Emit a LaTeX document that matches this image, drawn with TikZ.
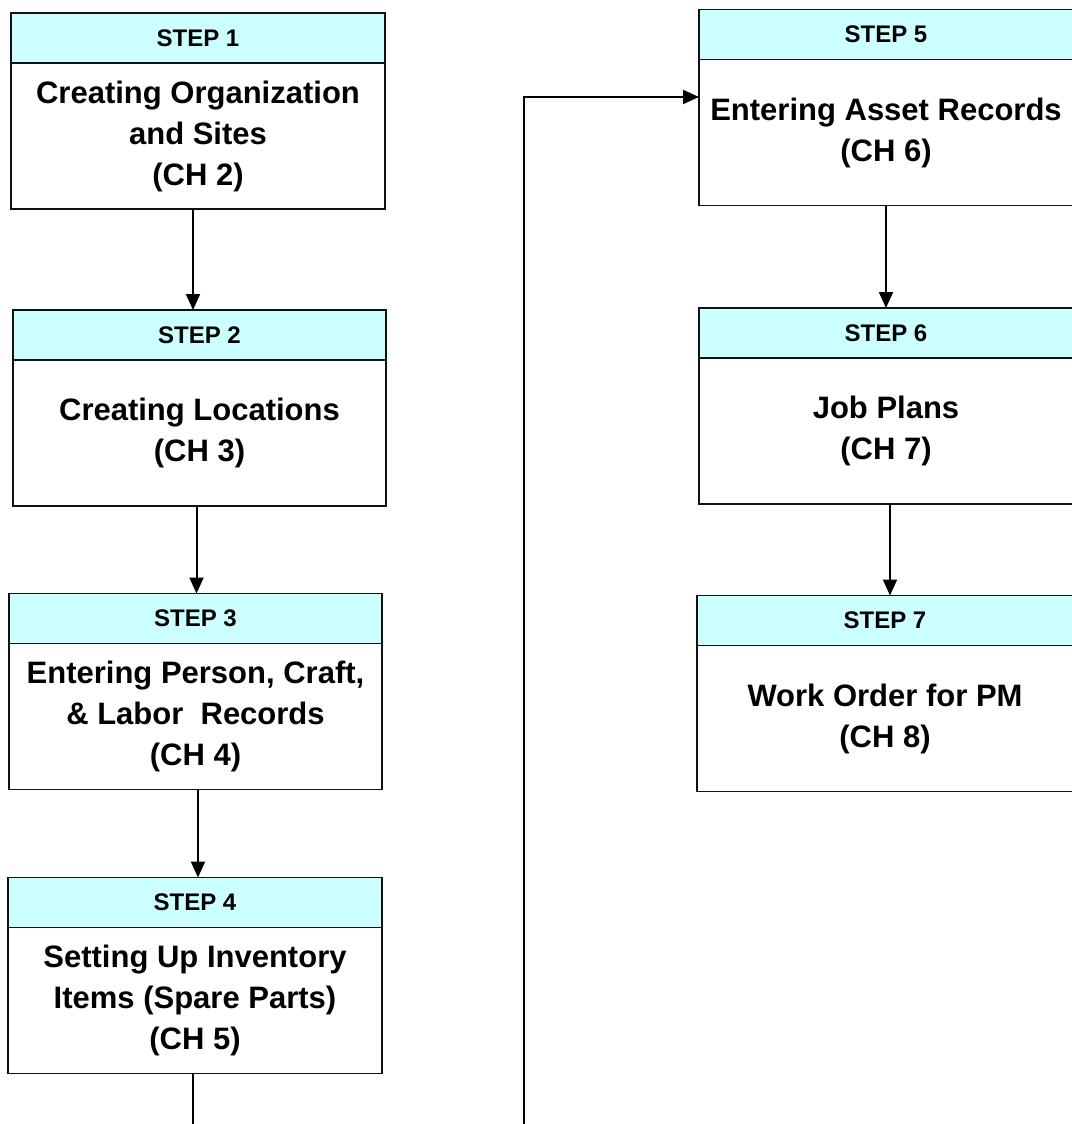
\documentclass[tikz,border=0pt]{standalone}
\usepackage{fontspec}
\setmainfont{Liberation Sans}
\usetikzlibrary{arrows.meta}
\definecolor{hdrfill}{HTML}{CCFFFF}
\definecolor{edge}{HTML}{111111}
\begin{document}
\begin{tikzpicture}[x=1pt,y=-1pt,
  hdr/.style={draw=edge, line width=1.5pt, fill=hdrfill, rectangle, inner sep=0pt, outer sep=0pt,
    minimum height=50pt, font=\fontsize{24}{28}\selectfont\bfseries},
  bdy/.style={draw=edge, line width=1.5pt, fill=white, rectangle, inner sep=0pt, outer sep=0pt,
    minimum height=146pt, align=center, font=\fontsize{31}{41}\selectfont\bfseries},
  arr/.style={draw=black, line width=2pt, -{Triangle[length=16pt,width=14pt]}},
  lin/.style={draw=black, line width=2pt}]
\useasboundingbox (0,0) rectangle (1071,1124);
\fill[white] (0,0) rectangle (1071,1124);
% left column
\node[hdr, minimum width=374pt] (h1) at (198,38) {STEP 1};
\node[bdy, minimum width=374pt, anchor=north] (b1) at (h1.south) {Creating Organization\\and Sites\\(CH 2)};
\node[hdr, minimum width=373pt] (h2) at (199.5,335) {STEP 2};
\node[bdy, minimum width=373pt, anchor=north] (b2) at (h2.south) {Creating Locations\\(CH 3)};
\node[hdr, minimum width=373pt] (h3) at (195.5,618.5) {STEP 3};
\node[bdy, minimum width=373pt, anchor=north] (b3) at (h3.south) {Entering Person, Craft,\\\& Labor~ Records\\(CH 4)};
\node[hdr, minimum width=374pt] (h4) at (195,902.5) {STEP 4};
\node[bdy, minimum width=374pt, anchor=north] (b4) at (h4.south) {Setting Up Inventory\\Items (Spare Parts)\\(CH 5)};
% right column
\node[hdr, minimum width=374pt] (h5) at (886,34.5) {STEP 5};
\node[bdy, minimum width=374pt, anchor=north] (b5) at (h5.south) {Entering Asset Records\\(CH 6)};
\node[hdr, minimum width=374pt] (h6) at (886,333) {STEP 6};
\node[bdy, minimum width=374pt, anchor=north] (b6) at (h6.south) {Job Plans\\(CH 7)};
\node[hdr, minimum width=376pt] (h7) at (885,620.5) {STEP 7};
\node[bdy, minimum width=376pt, anchor=north] (b7) at (h7.south) {Work Order for PM\\(CH 8)};
% connectors
\draw[arr] ([xshift=-5pt]b1.south) -- ([xshift=-5pt]b1.south |- h2.north);
\draw[arr] ([xshift=-3pt]b2.south) -- ([xshift=-3pt]b2.south |- h3.north);
\draw[arr] ([xshift=2.5pt]b3.south) -- ([xshift=2.5pt]b3.south |- h4.north);
\draw[arr] (b5.south) -- (b5.south |- h6.north);
\draw[arr] ([xshift=4pt]b6.south) -- ([xshift=4pt]b6.south |- h7.north);
\coordinate (e1) at (193,1130);
\coordinate (e2) at (524,1130);
\coordinate (c5) at (524,97);
\draw[lin] ([xshift=-2pt]b4.south) -- ([xshift=-2pt]b4.south |- e1);
\draw[arr] (e2) -- (c5) -- (c5 -| b5.west);
\end{tikzpicture}
\end{document}
